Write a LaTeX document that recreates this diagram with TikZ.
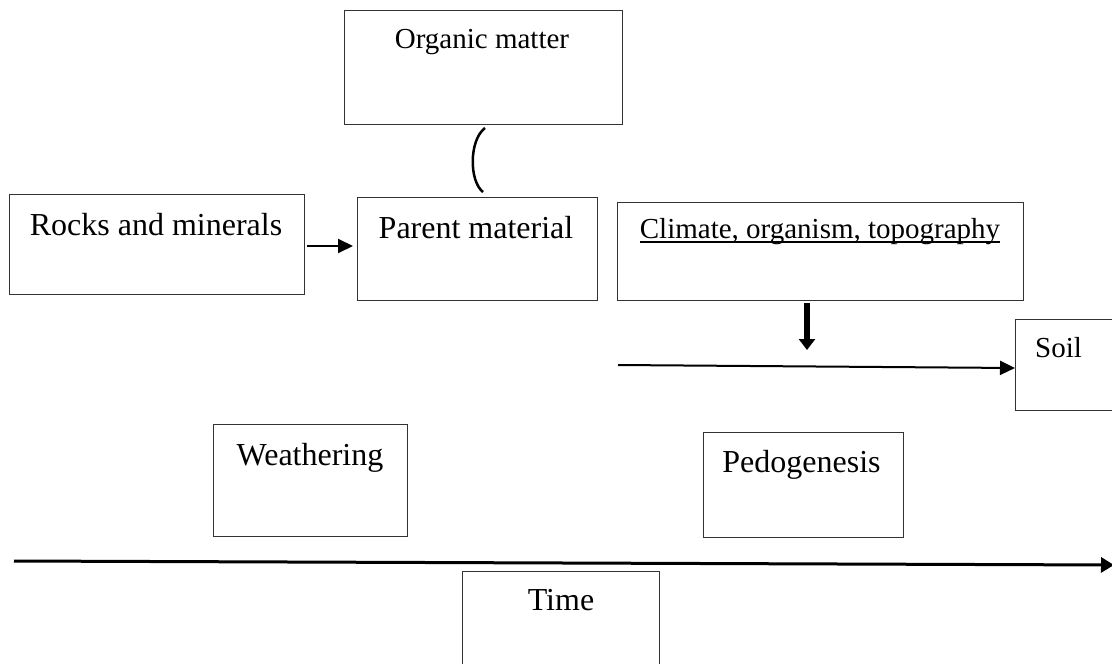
\documentclass[tikz,border=0pt]{standalone}
\usepackage{fontspec}
\setmainfont{Liberation Serif}
\usetikzlibrary{arrows.meta}
\begin{document}
\begin{tikzpicture}[x=1pt,y=-1pt,
  box/.style={draw=black!80,line width=1pt,rectangle,inner sep=0pt,outer sep=0pt},
  bigtxt/.style={anchor=base,inner sep=0pt,font=\fontsize{32pt}{38pt}\selectfont},
  smalltxt/.style={anchor=base,inner sep=0pt,font=\fontsize{29pt}{35pt}\selectfont},
  arr/.style={draw=black,line width=2pt,-{Triangle[length=15pt,width=14pt]}}]
\useasboundingbox (0,0) rectangle (1112,664);
% boxes
\node[box,minimum width=278pt,minimum height=114pt] (om) at (483,67) {};
\node[box,minimum width=240pt,minimum height=103pt] (pm) at (477,248.5) {};
\node[box,minimum width=295pt,minimum height=100pt] (rm) at (156.5,244) {};
\node[box,minimum width=406pt,minimum height=98pt] (cl) at (820,251) {};
\node[box,minimum width=100pt,minimum height=91pt] (so) at (1065,364.5) {};
\node[box,minimum width=194pt,minimum height=112pt] (we) at (310,480) {};
\node[box,minimum width=200pt,minimum height=105pt] (pe) at (803,484.5) {};
\node[box,minimum width=197pt,minimum height=98pt] (ti) at (560.5,620) {};
% texts
\node[smalltxt] (omt) at (482,48) {Organic matter};
\node[bigtxt] (pmt) at (476,238) {Parent material};
\node[bigtxt] (rmt) at (156,235) {Rocks and minerals};
\node[smalltxt] (clt) at (820,238) {Climate, organism, topography};
\draw[line width=1.3pt] ([yshift=-4pt]clt.base west) -- ([yshift=-4pt]clt.base east);
\node[smalltxt] (sot) at (1058.5,357) {Soil};
\node[bigtxt] (wet) at (310,465) {Weathering};
\node[bigtxt] (pet) at (801.5,472) {Pedogenesis};
\node[bigtxt] (tit) at (561,610) {Time};
% connectors
\coordinate (brtop) at (485,128);
\coordinate (brbot) at (483,192);
\draw[line width=2.5pt] (brtop) .. controls (469,140) and (469,181) .. (brbot);
\draw[arr,shorten <=3pt,shorten >=4pt] (rm.east |- 0,246) -- (pm.west |- 0,246);
\coordinate (dtop) at (807,303);
\coordinate (dbot) at (807,350);
\draw[draw=black,line width=6pt,-{Triangle[length=11pt,width=16pt]}] (dtop) -- (dbot);
\coordinate (hstart) at (618,365);
\draw[arr] (hstart) -- ([yshift=-3pt]so.west |- 0,365);
\coordinate (tstart) at (14,561);
\coordinate (tend) at (1114,565);
\draw[arr,line width=3pt,-{Triangle[length=13pt,width=15pt]}] (tstart) -- (tend);
\end{tikzpicture}
\end{document}
